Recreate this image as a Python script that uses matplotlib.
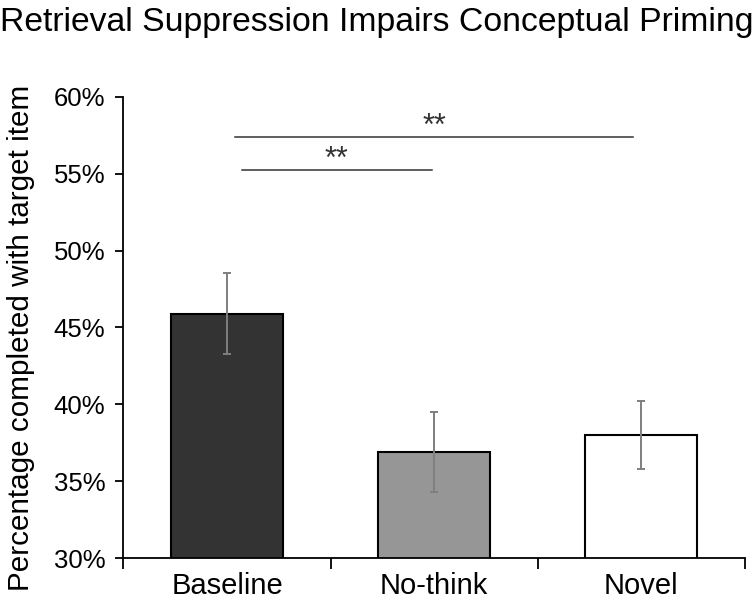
import matplotlib
matplotlib.use("Agg")
import matplotlib.pyplot as plt
from matplotlib.ticker import FuncFormatter

categories = ["Baseline", "No-think", "Novel"]
values = [45.9, 36.9, 38.0]
errors = [2.65, 2.6, 2.2]
colors = ["#333333", "#969696", "#ffffff"]
yticks = [30, 35, 40, 45, 50, 55, 60]
# significance brackets: (x_start, x_end, y, label)
sig = [(0.04, 1.96, 57.4, "**"), (0.07, 0.99, 55.25, "**")]

plt.rcParams['font.family'] = ['Liberation Sans', 'DejaVu Sans']
fig = plt.figure(figsize=(7.53, 6.02), dpi=100)
ax = fig.add_axes([0.164, 0.073, 0.825, 0.766])

x = list(range(len(categories)))
ax.bar(x, values, width=0.54, color=colors, edgecolor="black", linewidth=1.5, zorder=2)
ax.errorbar(x, values, yerr=errors, fmt="none", ecolor="#7f7f7f", elinewidth=1.4,
            capsize=3, capthick=1.4, zorder=3)

for x0, x1, yy, lab in sig:
    ax.plot([x0, x1], [yy, yy], color="#333333", lw=1.1, zorder=3)
    ax.text((x0 + x1) / 2, yy - 0.35, lab, ha="center", va="bottom", fontsize=22, color="#333333")

ax.set_xlim(-0.5, 2.5)
ax.set_ylim(30, 60)
ax.set_yticks(yticks)
ax.yaxis.set_major_formatter(FuncFormatter(lambda v, p: f"{v:.0f}%"))
ax.set_xticks([-0.5, 0.5, 1.5, 2.5])
ax.set_xticklabels([])
ax.set_xticks(x, minor=True)
ax.set_xticklabels(categories, minor=True, fontsize=21)
ax.tick_params(axis="x", which="minor", length=0, pad=10)
ax.tick_params(axis="x", which="major", length=8, width=1.3, direction="out")
ax.tick_params(axis="y", length=6, width=1.3, direction="out", labelsize=18.5, pad=7)

for s in ["top", "right"]:
    ax.spines[s].set_visible(False)
ax.spines["left"].set_linewidth(1.3)
ax.spines["bottom"].set_linewidth(1.3)

ax.set_ylabel("Percentage completed with target item", fontsize=21.3)
ax.yaxis.set_label_coords(-0.142, 0.478)
fig.text(0.0, 0.962, "Retrieval Suppression Impairs Conceptual Priming", fontsize=24.3,
         ha="left", va="center")

fig.savefig("out.png", dpi=100)
